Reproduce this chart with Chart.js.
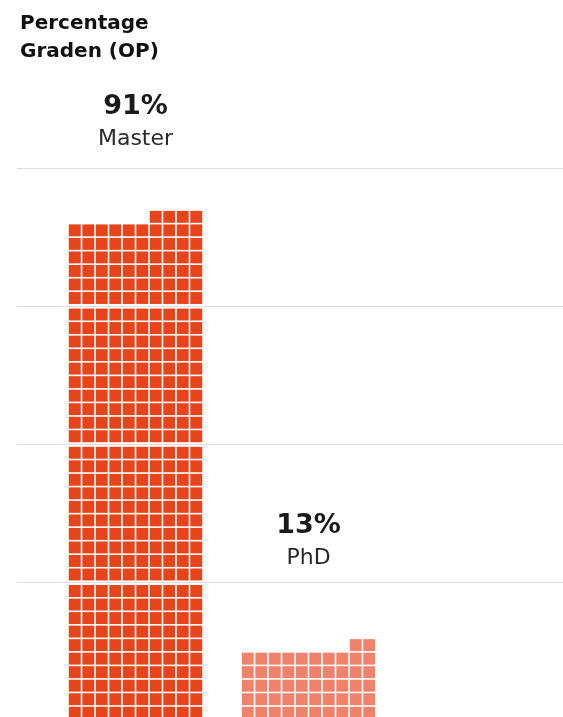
<!DOCTYPE html>
<html>
<head>
<meta charset="utf-8">
<script src="https://cdn.jsdelivr.net/npm/chart.js@4"></script>
<style>
  html, body { margin: 0; padding: 0; background: #fff; overflow: hidden; }
  #wrap { position: relative; width: 563px; height: 722px; }
  #title {
    position: absolute; left: 20px; top: 8px;
    font: bold 20px "DejaVu Sans", sans-serif; line-height: 28px; color: #111;
  }
</style>
</head>
<body>
<div id="wrap">
  <canvas id="c" width="563" height="722"></canvas>
  <div id="title">Percentage<br>Graden (OP)</div>
</div>
<script>
// Waffle bars: one square = 0.25 %, ten squares per row, ten rows per gridline band
const categories = ['Master', 'PhD'];
const values = [91, 13];
const colors = ['#e8441b', '#f0826b'];
const yTicks = [0, 25, 50, 75, 100];
const UNIT = 0.25;
const PER_ROW = 10;
const ROWS_PER_BAND = 10;

const waffle = {
  id: 'waffle',
  afterDatasetsDraw(chart) {
    const { ctx, scales: { y }, chartArea } = chart;
    const meta = chart.getDatasetMeta(0);
    const bandVal = UNIT * PER_ROW * ROWS_PER_BAND;
    meta.data.forEach((bar, i) => {
      const n = Math.round(values[i] / UNIT);
      const full = Math.floor(n / PER_ROW);
      const rest = n % PER_ROW;
      const left = bar.x - bar.width / 2;
      const cw = bar.width / PER_ROW;
      const gap = 1.6, inset = 1.5;
      ctx.save();
      ctx.fillStyle = colors[i];
      const cell = (row, col) => {
        const b = Math.floor(row / ROWS_PER_BAND), k = row % ROWS_PER_BAND;
        const bb = y.getPixelForValue(b * bandVal) - inset;
        const bt = y.getPixelForValue((b + 1) * bandVal) + inset;
        const rh = (bb - bt) / ROWS_PER_BAND;
        const yt = bb - (k + 1) * rh;
        ctx.fillRect(left + col * cw + gap / 2, yt + gap / 2, cw - gap, rh - gap);
      };
      for (let r = 0; r < full; r++) for (let c = 0; c < PER_ROW; c++) cell(r, c);
      for (let c = PER_ROW - rest; c < PER_ROW; c++) cell(full, c);

      // labels above the bar, kept under the title
      const top = y.getPixelForValue((full + (rest ? 1 : 0)) * UNIT * PER_ROW);
      const nameY = Math.max(top - 74, chartArea.top - 23);
      ctx.textAlign = 'center';
      ctx.textBaseline = 'alphabetic';
      ctx.fillStyle = '#1a1a1a';
      ctx.font = 'bold 27px "DejaVu Sans", sans-serif';
      ctx.fillText(values[i] + '%', bar.x, nameY - 31);
      ctx.font = '22px "DejaVu Sans", sans-serif';
      ctx.fillStyle = '#2a2a2a';
      ctx.fillText(categories[i], bar.x, nameY);
      ctx.restore();
    });
  }
};

new Chart(document.getElementById('c'), {
  type: 'bar',
  data: {
    datasets: [{
      data: values.map((v, i) => ({ x: i, y: v })),
      backgroundColor: 'rgba(0,0,0,0)',
      barPercentage: 0.78,
      categoryPercentage: 1
    }]
  },
  options: {
    responsive: false,
    animation: false,
    layout: { padding: { left: 17, right: 0, top: 168, bottom: 1 } },
    plugins: { legend: { display: false }, tooltip: { enabled: false } },
    scales: {
      x: {
        type: 'linear', min: -0.685, max: 2.471,
        offset: false,
        afterBuildTicks: s => { s.ticks = categories.map((_, i) => ({ value: i })); },
        display: false
      },
      y: {
        min: 0, max: 100,
        afterBuildTicks: s => { s.ticks = yTicks.map(v => ({ value: v })); },
        ticks: { display: false },
        grid: { color: '#dedede', lineWidth: 1, drawTicks: false },
        border: { display: false }
      }
    }
  },
  plugins: [waffle]
});
</script>
</body>
</html>
